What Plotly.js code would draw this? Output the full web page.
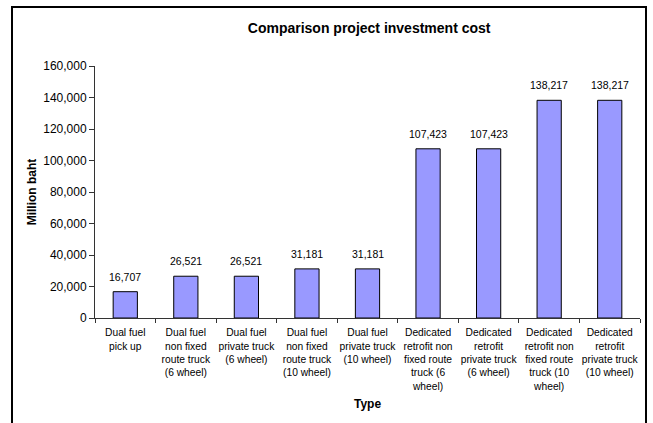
<!DOCTYPE html>
<html>
<head>
<meta charset="utf-8">
<script src="https://cdn.plot.ly/plotly-3.0.1.min.js"></script>
<style>
  html, body { margin: 0; padding: 0; background: #fff; }
  #wrap { position: relative; width: 653px; height: 423px; overflow: hidden; }
  #chart { position: absolute; left: 0; top: 0; width: 653px; height: 423px; }
  #frame { position: absolute; left: 11px; top: 6px; width: 632px; height: 440px;
           border: 2px solid #000; pointer-events: none; }
</style>
</head>
<body>
<div id="wrap">
  <div id="chart"></div>
  <div id="frame"></div>
</div>
<script>
const categories = [
  "Dual fuel<br>pick up",
  "Dual fuel<br>non fixed<br>route truck<br>(6 wheel)",
  "Dual fuel<br>private truck<br>(6 wheel)",
  "Dual fuel<br>non fixed<br>route truck<br>(10 wheel)",
  "Dual fuel<br>private truck<br>(10 wheel)",
  "Dedicated<br>retrofit non<br>fixed route<br>truck (6<br>wheel)",
  "Dedicated<br>retrofit<br>private truck<br>(6 wheel)",
  "Dedicated<br>retrofit non<br>fixed route<br>truck (10<br>wheel)",
  "Dedicated<br>retrofit<br>private truck<br>(10 wheel)"
];
const investmentCost = [16707, 26521, 26521, 31181, 31181, 107423, 107423, 138217, 138217];
const yTickValues = [0, 20000, 40000, 60000, 80000, 100000, 120000, 140000, 160000];

const fmt = v => v.toLocaleString('en-US');

const font = "Arial, 'Liberation Sans', sans-serif";

const trace = {
  type: 'bar',
  x: categories,
  y: investmentCost,
  marker: { color: '#9999FF', line: { color: '#000', width: 1 } },
  hoverinfo: 'x+y'
};

const annotations = categories.map((c, i) => ({
  x: c, y: investmentCost[i], xref: 'x', yref: 'y',
  text: fmt(investmentCost[i]), showarrow: false,
  yanchor: 'middle', yshift: 15,
  font: { family: font, size: 10.5, color: '#000' }
}));

const layout = {
  width: 653, height: 423,
  margin: { l: 95, r: 13, t: 66, b: 105 },
  paper_bgcolor: '#fff', plot_bgcolor: '#fff',
  showlegend: false,
  bargap: 0.6,
  font: { family: font, color: '#000' },
  title: {
    text: '<b>Comparison project investment cost</b>',
    font: { family: font, size: 14, color: '#000' },
    x: 0.503, xref: 'paper', xanchor: 'center',
    y: 1 - 28 / 423, yref: 'container', yanchor: 'middle'
  },
  xaxis: {
    type: 'category',
    showline: true, linecolor: '#333', linewidth: 1,
    ticks: 'outside', tickson: 'boundaries', ticklen: 4, tickcolor: '#333',
    tickangle: 0, ticklabelstandoff: 5,
    tickfont: { family: font, size: 10.25, color: '#000' },
    showgrid: false, zeroline: false,
    automargin: false,
    title: { text: '<b>Type</b>', font: { family: font, size: 12, color: '#000' }, standoff: 9 }
  },
  yaxis: {
    range: [0, 160000],
    tickvals: yTickValues,
    ticktext: yTickValues.map(fmt),
    showline: true, linecolor: '#333', linewidth: 1,
    ticks: 'outside', ticklen: 5, tickcolor: '#333',
    tickfont: { family: font, size: 12, color: '#000' },
    showgrid: false, zeroline: false,
    automargin: false,
    title: { text: '<b>Million baht</b>', font: { family: font, size: 12, color: '#000' }, standoff: 4 }
  },
  annotations: annotations
};

Plotly.newPlot('chart', [trace], layout, { staticPlot: true, displayModeBar: false });
</script>
</body>
</html>
